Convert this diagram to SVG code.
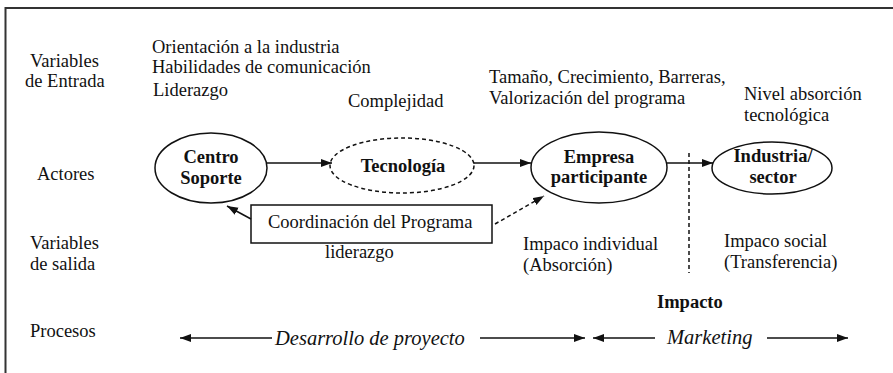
<svg xmlns="http://www.w3.org/2000/svg" width="893" height="373" viewBox="0 0 893 373">
<defs>
<style>
text{font-family:'Liberation Serif',Tinos,'Times New Roman','DejaVu Serif',serif;font-size:18.5px;fill:#111}
.b{font-weight:bold}
.i{font-style:italic;font-size:20.5px}
.m{text-anchor:middle}
.n{fill:#fff;stroke:#111;stroke-width:1.5}
.d{stroke-dasharray:4,3}
.c{stroke:#111;stroke-width:1.5;fill:none}
</style>
<marker id="ah" markerUnits="userSpaceOnUse" markerWidth="12" markerHeight="10" refX="11" refY="4" orient="auto">
<path d="M0,0 L11,4 L0,8 Z" fill="#111"/>
</marker>
</defs>
<rect width="893" height="373" fill="#fff"/>
<path d="M5.5,373 V8 H893" fill="none" stroke="#333" stroke-width="2"/>

<g id="labels">
<text x="30" y="67">Variables</text>
<text x="25" y="87">de Entrada</text>
<text x="37" y="180">Actores</text>
<text x="30" y="249">Variables</text>
<text x="30" y="270">de salida</text>
<text x="30" y="337">Procesos</text>
<text x="152" y="53">Orientación a la industria</text>
<text x="152" y="73">Habilidades de comunicación</text>
<text x="153" y="96">Liderazgo</text>
<text x="348" y="107">Complejidad</text>
<text x="489" y="83">Tamaño, Crecimiento, Barreras,</text>
<text x="489" y="104">Valorización del programa</text>
<text x="744" y="100">Nivel absorción</text>
<text x="744" y="121">tecnológica</text>
<text x="325" y="258">liderazgo</text>
<text x="523" y="250">Impaco individual</text>
<text x="523" y="271">(Absorción)</text>
<text x="724" y="247">Impaco social</text>
<text x="724" y="268">(Transferencia)</text>
<text x="657" y="308" class="b">Impacto</text>
<text x="275" y="345" class="i">Desarrollo de proyecto</text>
<text x="667" y="344" class="i">Marketing</text>
</g>

<g id="centro">
<ellipse cx="211" cy="168" rx="56" ry="35" class="n"/>
<text x="211" y="163" class="b m">Centro</text>
<text x="211" y="184" class="b m">Soporte</text>
</g>
<g id="tecnologia">
<ellipse cx="402" cy="165.5" rx="72" ry="27.5" class="n d"/>
<text x="403" y="172" class="b m">Tecnología</text>
</g>
<g id="empresa">
<ellipse cx="599" cy="167.5" rx="68" ry="35.5" class="n"/>
<text x="599" y="163" class="b m">Empresa</text>
<text x="599" y="183" class="b m">participante</text>
</g>
<g id="industria">
<ellipse cx="772" cy="168" rx="60" ry="26" class="n"/>
<text x="773" y="162" class="b m">Industria/</text>
<text x="773" y="183" class="b m">sector</text>
</g>
<g id="coordinacion">
<rect x="251" y="205" width="241" height="38" class="n"/>
<text x="268" y="228">Coordinación del Programa</text>
</g>

<g id="connectors">
<line x1="267" y1="163" x2="332" y2="163" class="c" marker-end="url(#ah)"/>
<line x1="474" y1="163" x2="531" y2="163" class="c" marker-end="url(#ah)"/>
<line x1="667" y1="163" x2="713" y2="163" class="c" marker-end="url(#ah)"/>
<line x1="689" y1="153" x2="689" y2="273" class="c d" stroke-width="1.2"/>
<line x1="251" y1="219" x2="227" y2="206" class="c" marker-end="url(#ah)"/>
<line x1="495" y1="224" x2="544" y2="196" class="c d" marker-end="url(#ah)"/>
<line x1="272" y1="338" x2="180" y2="338" class="c" marker-end="url(#ah)"/>
<line x1="480" y1="338" x2="585" y2="338" class="c" marker-end="url(#ah)"/>
<line x1="655" y1="338" x2="593" y2="338" class="c" marker-end="url(#ah)"/>
<line x1="767" y1="338" x2="848" y2="338" class="c" marker-end="url(#ah)"/>
</g>
</svg>
